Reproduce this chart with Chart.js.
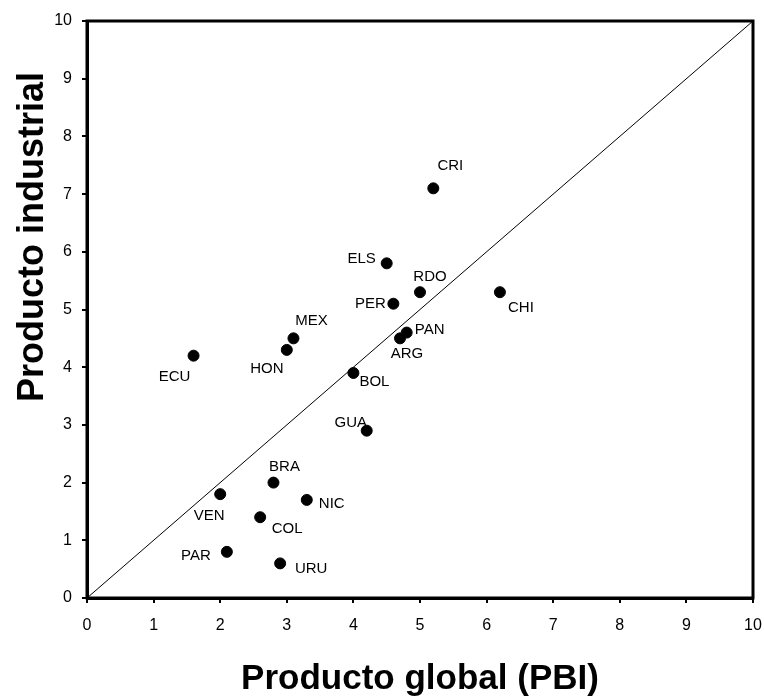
<!DOCTYPE html>
<html>
<head>
<meta charset="utf-8">
<script src="https://cdn.jsdelivr.net/npm/chart.js@4.4.1/dist/chart.umd.min.js"></script>
<style>
  html, body { margin: 0; padding: 0; background: #fff; }
  #wrap { width: 764px; height: 696px; position: relative; }
</style>
</head>
<body>
<div id="wrap"><canvas id="chart"></canvas></div>
<script>
// data
const countries = ['CRI', 'ELS', 'RDO', 'CHI', 'PER', 'PAN', 'ARG', 'MEX', 'HON', 'ECU',
                   'BOL', 'GUA', 'BRA', 'VEN', 'NIC', 'COL', 'PAR', 'URU'];
const globalProduct = [5.2, 4.5, 5.0, 6.2, 4.6, 4.8, 4.7, 3.1, 3.0, 1.6,
                       4.0, 4.2, 2.8, 2.0, 3.3, 2.6, 2.1, 2.9];
const industrialProduct = [7.1, 5.8, 5.3, 5.3, 5.1, 4.6, 4.5, 4.5, 4.3, 4.2,
                           3.9, 2.9, 2.0, 1.8, 1.7, 1.4, 0.8, 0.6];
const diagonalX = [0, 10];
const diagonalY = [0, 10];
const tickValues = [0, 1, 2, 3, 4, 5, 6, 7, 8, 9, 10];

// label placement relative to each dot (px)
const labelOffsets = {
  CRI: [17, -22], ELS: [-25, -4], RDO: [10, -15], CHI: [21, 16], PER: [-23, 0],
  PAN: [23, -3], ARG: [7, 16], MEX: [18, -17], HON: [-20, 19], ECU: [-19, 21],
  BOL: [21, 9], GUA: [-16, -8], BRA: [11, -16], VEN: [-11, 22], NIC: [25, 4],
  COL: [27, 12], PAR: [-31, 4], URU: [31, 5]
};

const FONT = "'Liberation Sans', Arial, Helvetica, sans-serif";

const extras = {
  id: 'extras',
  afterDatasetsDraw(chart) {
    const ctx = chart.ctx;
    const meta = chart.getDatasetMeta(1);
    ctx.save();
    ctx.fillStyle = '#000';
    ctx.font = '15px ' + FONT;
    ctx.textAlign = 'center';
    ctx.textBaseline = 'middle';
    meta.data.forEach((pt, i) => {
      const off = labelOffsets[countries[i]] || [0, 0];
      ctx.fillText(countries[i], pt.x + off[0], pt.y + off[1]);
    });
    ctx.restore();
  },
  afterDraw(chart) {
    const ctx = chart.ctx;
    const a = chart.chartArea;
    ctx.save();
    ctx.strokeStyle = '#000';
    ctx.lineWidth = 3;
    ctx.strokeRect(a.left, a.top, a.right - a.left, a.bottom - a.top);

    ctx.fillStyle = '#000';
    ctx.textAlign = 'center';
    ctx.textBaseline = 'alphabetic';
    ctx.font = 'bold 35px ' + FONT;
    ctx.fillText('Producto global (PBI)', (a.left + a.right) / 2, 689);

    ctx.font = 'bold 36px ' + FONT;
    ctx.translate(43, 237);
    ctx.rotate(-Math.PI / 2);
    ctx.fillText('Producto industrial', 0, 0);
    ctx.restore();
  }
};

new Chart(document.getElementById('chart'), {
  type: 'scatter',
  data: {
    datasets: [
      {
        type: 'line',
        data: diagonalX.map((x, i) => ({ x: x, y: diagonalY[i] })),
        borderColor: '#000',
        borderWidth: 1,
        pointRadius: 0,
        fill: false
      },
      {
        data: globalProduct.map((x, i) => ({ x: x, y: industrialProduct[i] })),
        backgroundColor: '#000',
        borderColor: '#000',
        pointRadius: 5.5,
        pointHoverRadius: 5.5
      }
    ]
  },
  options: {
    responsive: true,
    maintainAspectRatio: false,
    animation: false,
    layout: { padding: { top: 21, right: 11, left: 0, bottom: 0 } },
    plugins: { legend: { display: false }, tooltip: { enabled: false } },
    scales: {
      x: {
        type: 'linear',
        min: 0,
        max: 10,
        afterBuildTicks: s => { s.ticks = tickValues.map(v => ({ value: v })); },
        afterFit: s => { s.height = 98; s.paddingRight = 0; s.paddingLeft = 0; },
        grid: { drawOnChartArea: false, drawTicks: true, tickLength: 5, color: '#000', lineWidth: 2 },
        border: { color: '#000', width: 3 },
        ticks: { color: '#000', padding: 13, maxRotation: 0, font: { family: FONT, size: 16 } }
      },
      y: {
        type: 'linear',
        min: 0,
        max: 10,
        afterBuildTicks: s => { s.ticks = tickValues.map(v => ({ value: v })); },
        afterFit: s => { s.width = 87; s.paddingTop = 0; s.paddingBottom = 0; },
        grid: { drawOnChartArea: false, drawTicks: true, tickLength: 5, color: '#000', lineWidth: 2 },
        border: { color: '#000', width: 3 },
        ticks: { color: '#000', padding: 10, font: { family: FONT, size: 16 } }
      }
    }
  },
  plugins: [extras]
});
</script>
</body>
</html>
